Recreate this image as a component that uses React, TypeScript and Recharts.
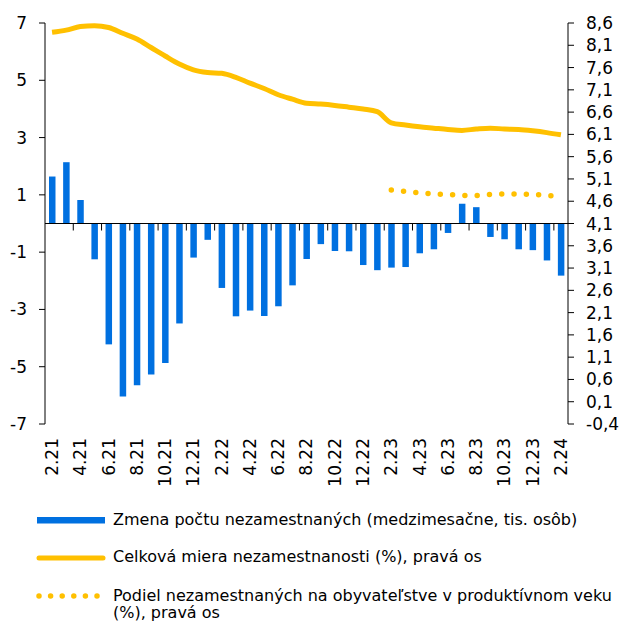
import React from 'react';
import {
  ComposedChart,
  Bar,
  Line,
  XAxis,
  YAxis,
  ReferenceLine,
} from 'recharts';

const months = [
  '2.21', '3.21', '4.21', '5.21', '6.21', '7.21', '8.21', '9.21', '10.21', '11.21', '12.21',
  '1.22', '2.22', '3.22', '4.22', '5.22', '6.22', '7.22', '8.22', '9.22', '10.22', '11.22', '12.22',
  '1.23', '2.23', '3.23', '4.23', '5.23', '6.23', '7.23', '8.23', '9.23', '10.23', '11.23', '12.23',
  '1.24', '2.24',
];

// month-on-month change in number of unemployed (thousands), left axis
const change = [
  1.64, 2.14, 0.82, -1.25, -4.22, -6.04, -5.65, -5.27, -4.87, -3.49, -1.19,
  -0.57, -2.25, -3.24, -3.04, -3.23, -2.89, -2.16, -1.24, -0.72, -0.96, -0.97, -1.45,
  -1.63, -1.54, -1.52, -1.04, -0.9, -0.33, 0.69, 0.57, -0.47, -0.55, -0.9, -0.93,
  -1.29, -1.82,
];

// total unemployment rate (%), right axis
const rate = [
  8.39, 8.44, 8.52, 8.54, 8.5, 8.37, 8.24, 8.05, 7.86, 7.68, 7.55,
  7.49, 7.47, 7.38, 7.25, 7.13, 6.99, 6.89, 6.8, 6.78, 6.75, 6.71, 6.67,
  6.61, 6.36, 6.31, 6.27, 6.24, 6.21, 6.19, 6.22, 6.24, 6.22, 6.21, 6.18,
  6.14, 6.09,
];

// share of unemployed in working-age population (%), right axis, from 2.23
const share = [
  null, null, null, null, null, null, null, null, null, null, null,
  null, null, null, null, null, null, null, null, null, null, null, null,
  null, 4.85, 4.82, 4.79, 4.76, 4.75, 4.73, 4.73, 4.75, 4.76, 4.76, 4.75,
  4.73, 4.7,
];

const leftTicks = [-7, -5, -3, -1, 1, 3, 5, 7];
const rightTicks = [
  -0.4, 0.1, 0.6, 1.1, 1.6, 2.1, 2.6, 3.1, 3.6, 4.1, 4.6, 5.1, 5.6, 6.1, 6.6, 7.1, 7.6, 8.1, 8.6,
];

const legendItems = [
  'Zmena počtu nezamestnaných (medzimesačne, tis. osôb)',
  'Celková miera nezamestnanosti (%), pravá os',
  'Podiel nezamestnaných na obyvateľstve v produktívnom veku (%), pravá os',
];

const data = months.map((m, i) => ({
  month: m,
  change: change[i],
  rate: rate[i],
  share: share[i],
}));

const BLUE = '#0070E0';
const GOLD = '#FFC000';
const FONT = '"DejaVu Sans", Verdana, sans-serif';

const W = 623;
const TOP = 23;
const LEFT_W = 45;
const RIGHT_W = 55;
const X_H = 76;
const CHART_H = 500;
const PLOT_BOTTOM = CHART_H - X_H;
const ZERO_Y = (TOP + PLOT_BOTTOM) / 2;
const BAND = (W - LEFT_W - RIGHT_W) / months.length;

function MonthTick({ x, payload }: { x?: number; payload?: { value: string } }) {
  if (x == null || !payload) return null;
  const first = payload.value === months[0];
  return (
    <g>
      {!first && (
        <line
          x1={x - BAND / 2}
          x2={x - BAND / 2}
          y1={ZERO_Y}
          y2={ZERO_Y + 7}
          stroke="#000"
          strokeWidth={1}
        />
      )}
      <text
        transform={`translate(${x},${PLOT_BOTTOM + 14}) rotate(-90)`}
        textAnchor="end"
        dy="0.35em"
        fontSize={17}
        fontFamily={FONT}
        fill="#000"
      >
        {payload.value}
      </text>
    </g>
  );
}

function LegendSwatch({ kind }: { kind: number }) {
  const style = { display: 'block' };
  if (kind === 0) {
    return (
      <svg width={70} height={10} style={style}>
        <rect x={1} y={2} width={68} height={6.5} fill={BLUE} />
      </svg>
    );
  }
  if (kind === 1) {
    return (
      <svg width={70} height={10} style={style}>
        <line x1={3} x2={67} y1={5} y2={5} stroke={GOLD} strokeWidth={5} strokeLinecap="round" />
      </svg>
    );
  }
  return (
    <svg width={70} height={10} style={style}>
      <line
        x1={3}
        x2={72}
        y1={5}
        y2={5}
        stroke={GOLD}
        strokeWidth={5.5}
        strokeLinecap="round"
        strokeDasharray="0 11.6"
      />
    </svg>
  );
}

export default function App() {
  return (
    <div style={{ position: 'absolute', left: 0, top: 0, width: W, height: 622, background: '#fff' }}>
      <ComposedChart
        width={W}
        height={CHART_H}
        data={data}
        margin={{ top: TOP, right: 0, left: 0, bottom: 0 }}
        barCategoryGap={0}
      >
        <XAxis
          dataKey="month"
          xAxisId={0}
          height={X_H}
          interval={1}
          axisLine={false}
          tickLine={false}
          tick={<MonthTick />}
        />
        <YAxis
          yAxisId="left"
          orientation="left"
          width={LEFT_W}
          domain={[-7, 7]}
          ticks={leftTicks}
          interval={0}
          axisLine={{ stroke: '#000' }}
          tickLine={{ stroke: '#000' }}
          tickSize={6}
          tickMargin={12}
          tick={{ fontSize: 17, fill: '#000', fontFamily: FONT }}
        />
        <YAxis
          yAxisId="right"
          orientation="right"
          width={RIGHT_W}
          domain={[-0.4, 8.6]}
          ticks={rightTicks}
          interval={0}
          axisLine={{ stroke: '#000' }}
          tickLine={{ stroke: '#000' }}
          tickSize={6}
          tickMargin={12}
          tick={{ fontSize: 17, fill: '#000', fontFamily: FONT }}
          tickFormatter={(v: number) => v.toFixed(1).replace('.', ',')}
        />
        <Bar yAxisId="left" dataKey="change" fill={BLUE} barSize={6.5} isAnimationActive={false} />
        <ReferenceLine yAxisId="left" y={0} stroke="#000" strokeWidth={1} />
        <Line
          yAxisId="right"
          type="monotone"
          dataKey="rate"
          stroke={GOLD}
          strokeWidth={5}
          dot={false}
          isAnimationActive={false}
        />
        <Line
          yAxisId="right"
          type="monotone"
          dataKey="share"
          stroke={GOLD}
          strokeWidth={5.5}
          strokeLinecap="round"
          strokeDasharray="0 12.3"
          dot={false}
          isAnimationActive={false}
        />
      </ComposedChart>
      <div style={{ position: 'absolute', left: 36, top: 510.5, fontFamily: FONT, fontSize: 16, color: '#000' }}>
        {legendItems.map((label, i) => (
          <div key={label} style={{ display: 'flex', alignItems: 'flex-start', marginBottom: i === 0 ? 20 : 20.7 }}>
            <div style={{ width: 77, flex: 'none', paddingTop: 4.5 }}>
              <LegendSwatch kind={i} />
            </div>
            <div style={{ width: 505, lineHeight: '17.7px' }}>{label}</div>
          </div>
        ))}
      </div>
    </div>
  );
}
